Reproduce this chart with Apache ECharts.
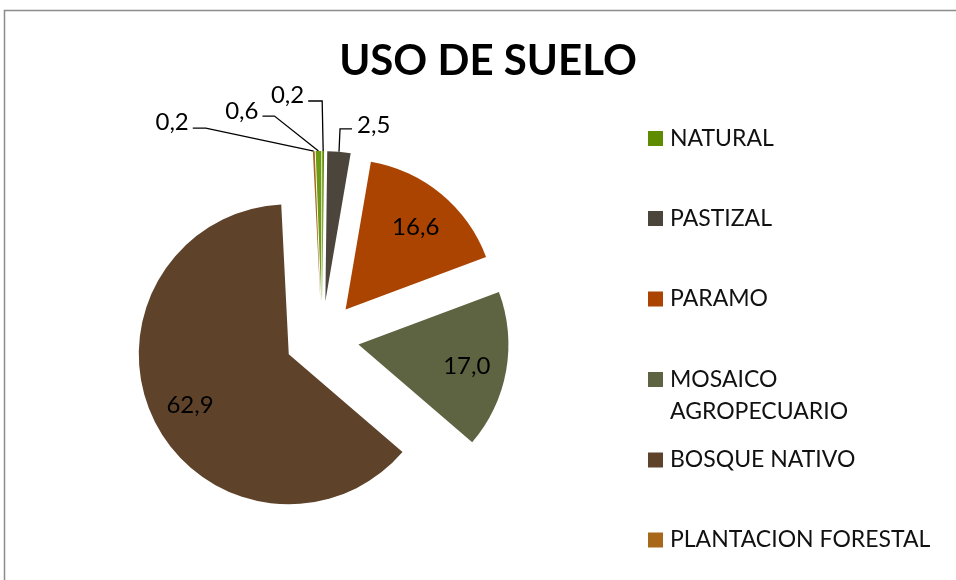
<!DOCTYPE html>
<html>
<head>
<meta charset="utf-8">
<script src="https://cdn.jsdelivr.net/npm/echarts@6/dist/echarts.min.js"></script>
<style>
html,body{margin:0;padding:0;background:#fff;}
#chart{width:956px;height:580px;}
</style>
</head>
<body>
<div id="chart"></div>
<script>
// ---- data ----
const titleText = 'USO DE SUELO';
const categories = ['NATURAL', 'PASTIZAL', 'PARAMO', 'MOSAICO AGROPECUARIO', 'BOSQUE NATIVO', 'PLANTACION FORESTAL', ''];
const values = [0.2, 2.5, 16.6, 17.0, 62.9, 0.2, 0.6];
const colors = ['#5f8b00', '#4b453c', '#aa4400', '#5e6441', '#5e432a', '#a8681a', '#6c9a12'];
const legendNames = categories.slice(0, 6);

// ---- layout / style ----
const FONT = 'Lato, "Open Sans", sans-serif';
const CX = 322, CY = 338, R = 150, OFF = 37, LABEL_R = 110;
// dataIndex -> [elbow dx, elbow dy, horizontal run, label dy]
const outsideLeaders = {
  0: [-1, -50, -14, -6],
  1: [1, -23, 12, -4],
  5: [-108, -23, -13, -6],
  6: [-44, -35, -12, -5]
};
const legendCenters = [138.5, 218.5, 299, 379.5, 460, 540];

function fmt(v) { return v.toFixed(1).replace('.', ','); }

const total = values.reduce((a, b) => a + b, 0);
let acc = 0;
const mids = values.map(v => { const m = (acc + v / 2) / total * 2 * Math.PI; acc += v; return m; });

const series = values.map((_, k) => {
  const u = [Math.sin(mids[k]), -Math.cos(mids[k])];
  const c = [CX + OFF * u[0], CY + OFF * u[1]];
  const inside = !(k in outsideLeaders);
  return {
    type: 'pie',
    silent: true,
    animation: false,
    center: c,
    radius: [0, R],
    startAngle: 90,
    clockwise: true,
    minAngle: 0,
    avoidLabelOverlap: false,
    data: values.map((v, i) => ({
      name: categories[i],
      value: v,
      itemStyle: { color: colors[i], opacity: i === k ? 1 : 0 },
      label: { show: i === k, position: inside ? 'inside' : 'outside' },
      labelLine: { show: i === k && !inside }
    })),
    label: {
      formatter: p => fmt(p.value),
      fontFamily: FONT, fontSize: 24, color: '#000'
    },
    labelLine: { length: 10, length2: 10, lineStyle: { color: '#000', width: 1.3 } },
    labelLayout: function (p) {
      if (p.dataIndex !== k) return {};
      if (inside) {
        return { x: c[0] + LABEL_R * u[0], y: c[1] + LABEL_R * u[1] + 3, align: 'center', verticalAlign: 'middle' };
      }
      const L = outsideLeaders[k];
      const p0 = [c[0] + R * u[0], c[1] + R * u[1]];
      const p1 = [p0[0] + L[0], p0[1] + L[1]];
      const p2 = [p1[0] + L[2], p1[1]];
      return {
        x: p2[0] + (L[2] < 0 ? -4 : 5),
        y: p2[1] + L[3],
        align: L[2] < 0 ? 'right' : 'left',
        verticalAlign: 'middle',
        labelLinePoints: [p0, p1, p2]
      };
    }
  };
});

const legends = legendNames.map((n, i) => {
  const multi = i === 3;
  return {
    orient: 'vertical',
    left: 648,
    top: legendCenters[i] - (multi ? 48 : 16),
    padding: 0,
    itemWidth: 15,
    itemHeight: 15,
    icon: 'rect',
    selectedMode: false,
    data: [{ name: n, itemStyle: { color: colors[i], opacity: 1 } }],
    formatter: multi ? (s => '\n' + s.replace(' ', '\n')) : '{name}',
    textStyle: {
      fontFamily: FONT, fontSize: 23, color: '#111', lineHeight: 32,
      padding: [0, 0, 0, 2]
    }
  };
});

const chart = echarts.init(document.getElementById('chart'), null, { renderer: 'canvas' });
chart.setOption({
  backgroundColor: '#fff',
  animation: false,
  title: {
    text: titleText,
    left: 488,
    top: 40,
    padding: 0,
    textAlign: 'center',
    textStyle: { fontFamily: FONT, fontWeight: 'bold', fontSize: 42, color: '#000' }
  },
  legend: legends,
  graphic: [{
    type: 'rect', silent: true, z: -1,
    shape: { x: 4.5, y: 10.5, width: 1000, height: 1000 },
    style: { fill: 'none', stroke: '#8c8c8c', lineWidth: 1.5 }
  }],
  series: series
});
</script>
</body>
</html>
